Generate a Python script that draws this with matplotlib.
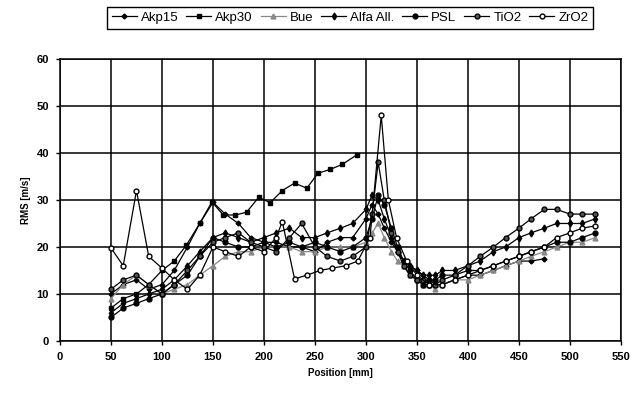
import matplotlib.pyplot as plt

plt.rcParams['font.family'] = ['Liberation Sans', 'DejaVu Sans']

# positions (mm) shared by most series
x_main = [50, 62, 75, 87, 100, 112, 125, 137, 150, 162, 175, 187, 200, 212, 225,
          237, 250, 262, 275, 287, 300, 306, 312, 318, 325, 331, 337, 343, 350,
          356, 362, 368, 375, 387, 400, 412, 425, 437, 450, 462, 475]
x_long = x_main + [487, 500, 512, 525]

akp15_y = [10, 12, 13, 11, 12, 15, 20, 25, 29.5, 27, 25, 22, 21, 21, 20, 20, 19, 21,
           22, 22, 26, 29, 27, 24, 21, 19, 17, 16, 15, 14, 13, 12, 12, 13, 14, 14,
           15, 16, 17, 17, 17.5]

akp30_x = [50, 62, 75, 87, 100, 112, 124, 137, 149, 160, 172, 183, 195, 206, 218,
           230, 242, 253, 265, 277, 291]
akp30_y = [7, 9, 10, 12, 15, 17, 20.4, 25, 29.6, 26.8, 26.8, 27.4, 30.6, 29.4, 32,
           33.6, 32.5, 35.7, 36.5, 37.6, 39.6]

bue_y = [9, 12, 14, 12, 10, 11, 12, 14, 16, 18, 19, 19, 20, 20, 20, 19, 19, 20, 20,
         20, 21, 23, 25, 22, 19, 17, 16, 14, 13, 12, 12, 11, 12, 13, 13, 14, 15, 16,
         17, 18, 19, 20, 21, 21, 22]

alfa_y = [6, 8, 9, 10, 11, 13, 16, 19, 22, 23, 22, 21, 22, 23, 24, 22, 22, 23, 24,
          25, 28, 31, 30, 26, 22, 19, 17, 16, 15, 14, 14, 14, 15, 15, 16, 17, 19, 20,
          22, 23, 24, 25, 25, 25, 26]

psl_y = [5, 7, 8, 9, 10, 12, 14, 18, 22, 21, 20, 20, 21, 20, 21, 20, 21, 20, 19, 20,
         22, 26, 31, 29, 24, 20, 17, 15, 13, 12, 13, 13, 14, 14, 15, 15, 16, 17, 18,
         19, 20, 21, 21, 22, 23]

tio2_y = [11, 13, 14, 12, 10, 12, 15, 18, 21, 22, 23, 21, 20, 19, 22, 25, 20, 18, 17,
          18, 20, 27, 38, 30, 23, 19, 16, 14, 13, 13, 12, 12, 13, 14, 16, 18, 20, 22,
          24, 26, 28, 28, 27, 27, 27]

zro2_x = [50, 62, 75, 87, 100, 112, 125, 137, 150, 162, 175, 187, 200, 212, 218, 230,
          242, 255, 267, 280, 292, 304, 315, 322, 330, 340, 350, 362, 375, 387, 400,
          412, 425, 437, 450, 462, 475, 487, 500, 512, 525]
zro2_y = [19.8, 16, 32, 18, 15.5, 13, 11, 14, 20, 19, 18, 20, 19, 22, 25.4, 13.2, 14,
          15, 15.5, 16, 17, 22, 48, 30, 22, 17, 14, 12, 12, 13, 14, 15, 16, 17, 18, 19,
          20, 22, 23, 24, 24.5]

fig = plt.figure(figsize=(6.41, 3.96), dpi=100)
ax = fig.add_axes([0.0936, 0.139, 0.875, 0.712])

ax.plot(x_main, akp15_y, color='black', lw=0.9, marker='D', ms=2.5, label='Akp15')
ax.plot(akp30_x, akp30_y, color='black', lw=0.9, marker='s', ms=3.5, label='Akp30')
ax.plot(x_long, bue_y, color='#888888', lw=0.9, marker='^', ms=3.5, label='Bue')
ax.plot(x_long, alfa_y, color='black', lw=0.9, marker='d', ms=3.5, label='Alfa All.')
ax.plot(x_long, psl_y, color='black', lw=0.9, marker='o', ms=3.5, label='PSL')
ax.plot(x_long, tio2_y, color='black', lw=0.9, marker='o', ms=3.5, mfc='#555555', label='TiO2')
ax.plot(zro2_x, zro2_y, color='black', lw=0.9, marker='o', ms=3.5, mfc='white', label='ZrO2')

ax.set_xlim(0, 550)
ax.set_ylim(0, 60)
ax.set_xticks(range(0, 551, 50))
ax.set_yticks(range(0, 61, 10))
ax.grid(True, color='black', lw=1.1)
ax.tick_params(labelsize=8, length=3, width=1, pad=5)
for lbl in ax.get_xticklabels() + ax.get_yticklabels():
    lbl.set_fontweight('bold')
for s in ax.spines.values():
    s.set_linewidth(1.1)

ax.set_xlabel('Position [mm]', fontsize=7, fontweight='bold')
ax.set_ylabel('RMS [m/s]', fontsize=7, fontweight='bold')

leg = fig.legend(loc='center', bbox_to_anchor=(0.546, 0.955), ncol=7, fontsize=9.5,
                 handlelength=1.9, handletextpad=0.3, columnspacing=0.6,
                 borderpad=0.35, fancybox=False, framealpha=1, edgecolor='black')
leg.get_frame().set_linewidth(1)

fig.savefig('out.png', dpi=100)
